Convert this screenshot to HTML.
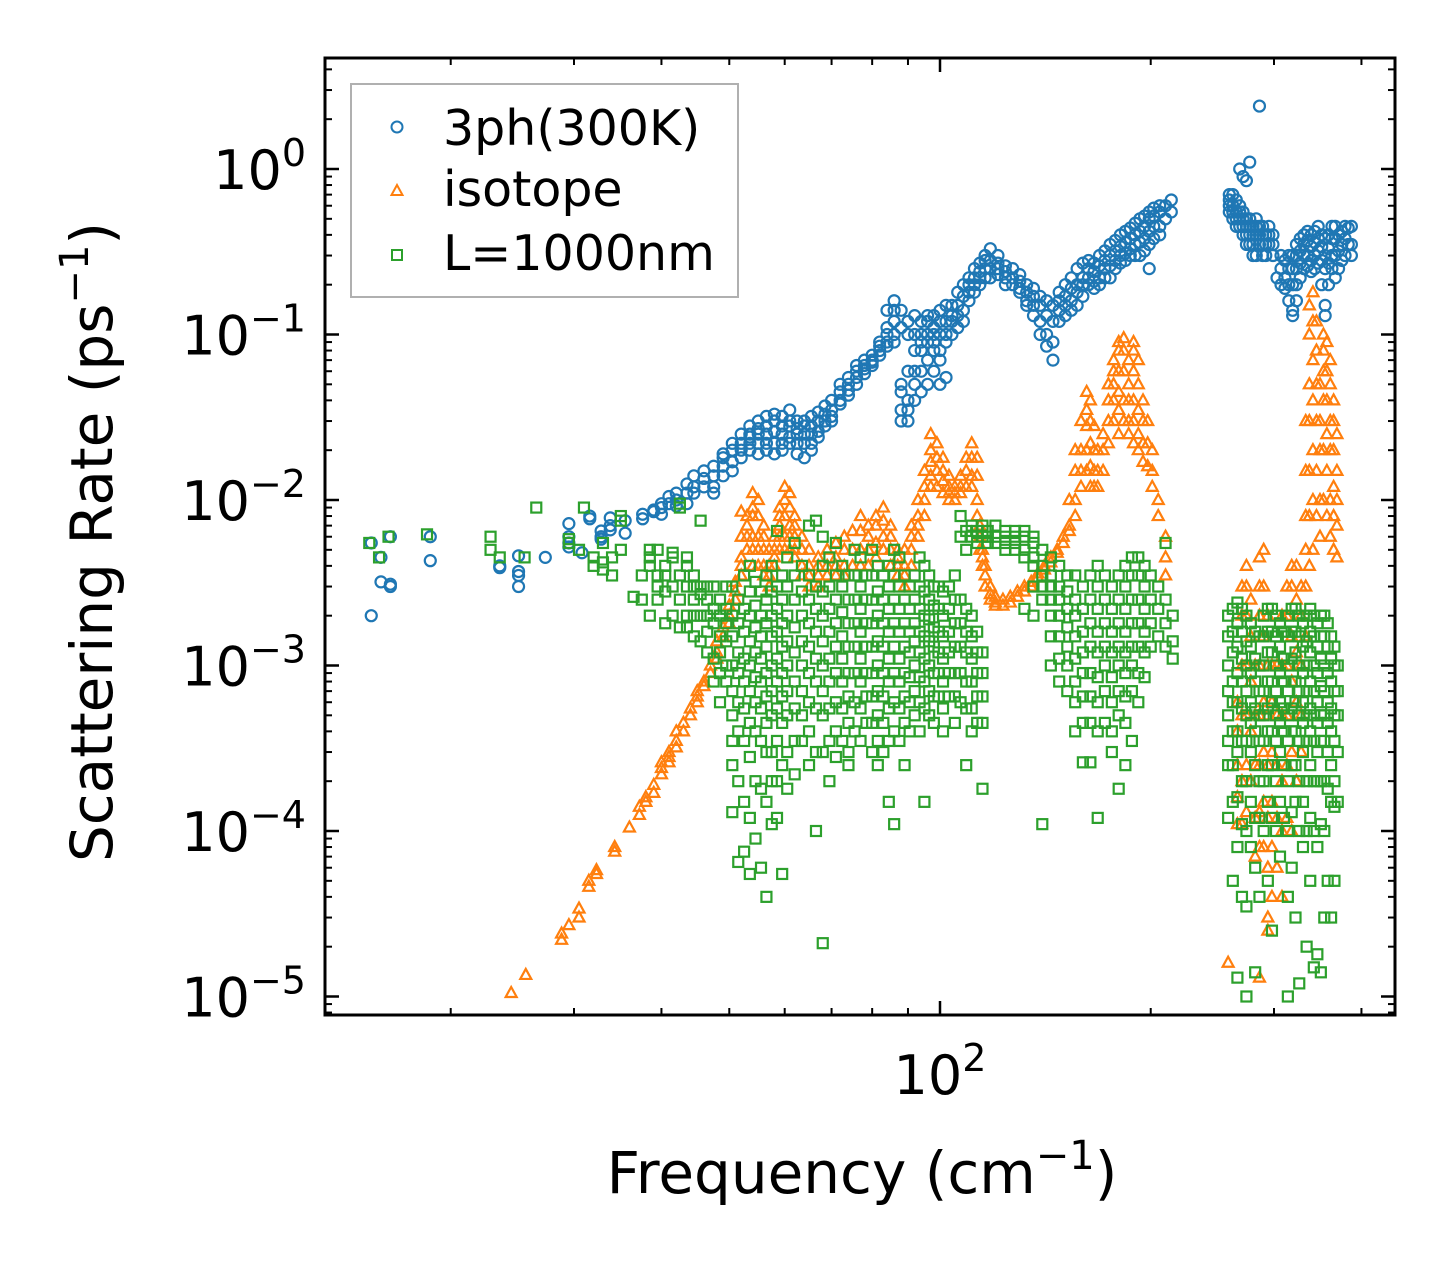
<!DOCTYPE html>
<html><head><meta charset="utf-8"><style>
html,body{margin:0;padding:0;background:#fff;}
svg{display:block;font-family:"DejaVu Sans","Liberation Sans",sans-serif;}
</style></head><body>
<svg id="chart" width="1455" height="1265" viewBox="0 0 1455 1265" xmlns="http://www.w3.org/2000/svg">
<rect width="1455" height="1265" fill="#fff"/>
<g id="marks"></g>
<g id="axes"></g>
<text x="862" y="1193" font-size="58" text-anchor="middle">Frequency (cm<tspan dy="-24" font-size="40">−1</tspan><tspan dy="24">)</tspan></text>
<text transform="translate(112,542) rotate(-90)" font-size="58" text-anchor="middle">Scattering Rate (ps<tspan dy="-24" font-size="40">−1</tspan><tspan dy="24">)</tspan></text>
<g>
<rect x="351" y="84" width="387" height="213" fill="#fff" stroke="#b0b0b0" stroke-width="2"/>
<circle cx="397" cy="127" r="5.5" fill="none" stroke="#1f77b4" stroke-width="2"/>
<text x="443" y="145" font-size="49">3ph(300K)</text>
<path d="M397,185 L402.5,195 L391.5,195 Z" fill="none" stroke="#ff7f0e" stroke-width="2"/>
<text x="443" y="206" font-size="49">isotope</text>
<rect x="392" y="250" width="10" height="10" fill="none" stroke="#2ca02c" stroke-width="2"/>
<text x="443" y="270" font-size="49">L=1000nm</text>
</g>
</svg>
<script>
const blueFreq=[15.4,15.9,16.4,18.7,23.5,25,27.3,29.5,30.8,31.6,32.8,33.8,35.5,37.6,39,40,41,42,43.5,44.5,46,47.5,49,50.5,52,53.5,55,56.5,58,59.5,61,62.5,64,65.5,67,68.5,70,72,74,76,78,80,82,84,86,88,90,92,94,96,98,100,102,104,106,108,110,112,114,116,118,121,124,127,130,133,136,139,142,145,148,151,154,157,160,163,166,169,172,175,178,181,184,187,190,193,196,199,202,206,210,214,259,262,265,268,271,274,277,280,283,286,289,292,295,299,303,307,311,315,319,323,327,331,335,339,343,347,351,355,359,363,367,371,375,379,383,387];
const blueRate=[[0.002,0.0055],[0.0032,0.0045],[0.003,0.0031,0.006],[0.0043,0.006],[0.0039,0.004],[0.003,0.0035,0.0037,0.0046],[0.0045],[0.0072,0.006,0.0052,0.0055],[0.0048],[0.008,0.0077],[0.0058,0.006,0.0065],[0.007,0.0078,0.0066],[0.0075,0.0063],[0.0082,0.0077],[0.0085,0.0087],[0.009,0.0095,0.0082],[0.0095,0.0105],[0.011,0.01,0.0092],[0.0125,0.011,0.0095],[0.014,0.012,0.011],[0.0135,0.015,0.012],[0.016,0.014,0.012,0.011],[0.018,0.016,0.014,0.019],[0.02,0.017,0.022,0.015],[0.022,0.025,0.02,0.018],[0.025,0.028,0.022,0.02,0.024],[0.027,0.03,0.025,0.022,0.019],[0.028,0.032,0.025,0.022,0.02],[0.03,0.026,0.033,0.022,0.019],[0.032,0.025,0.028,0.022,0.02],[0.028,0.03,0.024,0.022,0.035],[0.027,0.022,0.025,0.03,0.019],[0.03,0.025,0.028,0.022,0.018],[0.025,0.028,0.022,0.032,0.02],[0.03,0.026,0.024,0.034],[0.033,0.03,0.028,0.037],[0.035,0.04,0.032,0.03],[0.045,0.04,0.038,0.05],[0.05,0.046,0.055,0.043],[0.06,0.055,0.05,0.065],[0.062,0.065,0.058,0.07],[0.07,0.075,0.065,0.068],[0.08,0.09,0.075,0.085],[0.1,0.09,0.085,0.11,0.14],[0.12,0.1,0.14,0.16,0.09],[0.14,0.11,0.05,0.045,0.03,0.035],[0.04,0.035,0.06,0.1,0.12,0.03],[0.06,0.08,0.1,0.05,0.04,0.13],[0.1,0.08,0.12,0.09,0.06,0.045],[0.12,0.1,0.09,0.13,0.07,0.05],[0.13,0.11,0.09,0.1,0.08,0.06],[0.1,0.14,0.12,0.08,0.07,0.05],[0.12,0.15,0.1,0.09,0.055],[0.13,0.15,0.12,0.1],[0.15,0.13,0.11,0.18],[0.17,0.14,0.2,0.12],[0.18,0.2,0.16,0.22],[0.22,0.2,0.25,0.18],[0.24,0.22,0.27,0.2],[0.25,0.28,0.22,0.3],[0.28,0.25,0.22,0.33],[0.27,0.25,0.23,0.3],[0.24,0.22,0.26,0.2],[0.22,0.2,0.25],[0.21,0.18,0.23,0.19],[0.18,0.16,0.2,0.15],[0.17,0.15,0.13,0.19],[0.15,0.12,0.17,0.1],[0.13,0.1,0.16,0.085],[0.12,0.09,0.15,0.07],[0.16,0.14,0.18,0.12],[0.17,0.15,0.2,0.13],[0.19,0.16,0.22,0.14],[0.2,0.18,0.25,0.15],[0.22,0.2,0.27,0.17],[0.25,0.22,0.28,0.2],[0.24,0.21,0.27,0.19],[0.26,0.22,0.3,0.2],[0.28,0.25,0.32,0.22],[0.3,0.26,0.35,0.22],[0.32,0.28,0.37,0.25],[0.34,0.3,0.4,0.27],[0.36,0.31,0.42,0.28],[0.38,0.33,0.44,0.3],[0.4,0.35,0.47,0.3],[0.42,0.36,0.5,0.3],[0.45,0.38,0.52,0.32],[0.5,0.42,0.55,0.35,0.25],[0.52,0.45,0.58,0.38],[0.55,0.45,0.6,0.4],[0.6,0.5],[0.65,0.55],[0.7,0.6,0.55,0.65],[0.7,0.6,0.5,0.55],[0.65,0.55,0.5,0.45],[0.6,0.5,0.45,0.55,1.0],[0.55,0.5,0.45,0.4,0.9],[0.5,0.45,0.4,0.35,0.85],[0.5,0.45,0.4,0.35,1.1],[0.45,0.4,0.35,0.3],[0.5,0.45,0.4,0.3],[0.45,0.4,0.35,2.4],[0.45,0.4,0.35,0.3],[0.4,0.35,0.3],[0.45,0.4,0.35],[0.4,0.35,0.3],[0.22],[0.3,0.25,0.2],[0.28,0.22,0.19],[0.3,0.25,0.2,0.16],[0.3,0.25,0.2,0.14,0.13],[0.35,0.3,0.25,0.2,0.16],[0.38,0.32,0.27,0.22],[0.4,0.35,0.3,0.25],[0.42,0.37,0.3,0.26],[0.4,0.34,0.28,0.24],[0.42,0.36,0.3,0.25],[0.45,0.38,0.32,0.27],[0.4,0.34,0.28,0.2],[0.38,0.3,0.25,0.15,0.13],[0.4,0.33,0.27,0.2],[0.45,0.38,0.3,0.25],[0.45,0.38,0.3,0.22],[0.4,0.32,0.25],[0.42,0.35,0.28],[0.45,0.38,0.3],[0.44,0.35],[0.45,0.35,0.3]];
const orangeFreq=[24.4,25.6,28.8,29.5,30.5,31.5,32.3,34.3,36,37.2,38,39,40,41,42,43,44,45,46,47,48,49,50,51,52,53,54,55,56,57,58,59,60,61,62,63.5,65,67,69,71,73,75,77,79,81,83,85,87,89,91,93,95,97,99,101,103,105,107,109,111,113,114,115,116,118,120,123,126,129,132,135,138,141,144,147,150,153,156,159,162,164,166,168,171,174,177,180,183,186,189,192,195,198,201,205,210,258,266,270,274,278,282,286,290,294,298,303,308,313,318,323,328,333,337,341,345,349,353,357,361,365,369];
const orangeRate=[[1.05e-5],[1.35e-5],[2.2e-5,2.4e-5],[2.7e-5],[3e-5,3.4e-5],[4.6e-5,5e-5],[5.5e-5,5.8e-5],[7.5e-5,8e-5],[1.05e-4],[1.4e-4,1.25e-4],[1.6e-4,1.5e-4],[1.9e-4,1.7e-4],[2.4e-4,2.2e-4,2.6e-4],[2.8e-4,3e-4,2.6e-4],[3.2e-4,3.5e-4,4e-4],[4e-4,4.5e-4],[5e-4,5.5e-4],[6e-4,6.5e-4,7e-4],[7.5e-4,8e-4],[9e-4,1e-3],[1.2e-3,1.1e-3,1.4e-3],[1.5e-3,1.7e-3],[2e-3,1.8e-3,2.3e-3],[2.5e-3,2.8e-3,3.2e-3],[3.5e-3,4e-3,4.5e-3,6e-3,8.5e-3],[5e-3,6e-3,7e-3,8e-3],[8e-3,9e-3,0.011,6e-3,5e-3,4e-3],[0.01,8e-3,6e-3,5e-3,4e-3],[7e-3,6e-3,5e-3,4e-3,3.5e-3],[5e-3,4e-3,3.5e-3,3e-3],[4e-3,4.5e-3,5e-3,6e-3],[6e-3,7e-3,8e-3,9e-3,5e-3],[0.01,0.012,8e-3,6e-3,5e-3],[0.011,9e-3,7e-3,6e-3,5e-3],[8e-3,7e-3,6e-3,5e-3,4.5e-3],[6e-3,5e-3,4e-3,3.5e-3],[5e-3,4e-3,3.5e-3,3e-3],[4.5e-3,4e-3,3.5e-3,3e-3],[5e-3,4e-3,3.5e-3],[5.5e-3,4.5e-3,4e-3,3.5e-3],[6e-3,5e-3,4e-3,3.5e-3],[6.5e-3,5e-3,4e-3],[8e-3,6.5e-3,5e-3,4e-3],[7e-3,6e-3,5e-3,4e-3],[8e-3,7e-3,5.5e-3,4.5e-3],[0.009,7.5e-3,6e-3,5e-3],[7e-3,6e-3,5e-3,4e-3],[5e-3,4.5e-3,4e-3,3.5e-3],[5e-3,4e-3,3.5e-3,3e-3],[7e-3,6e-3,5e-3,4e-3],[0.01,8e-3,7e-3,6e-3],[0.015,0.012,0.01,8e-3],[0.02,0.017,0.014,0.012,0.025],[0.022,0.018,0.015,0.012],[0.018,0.015,0.013,0.011],[0.014,0.012,0.011,0.01],[0.012,0.011,0.01],[0.014,0.012,0.011],[0.018,0.015,0.012],[0.022,0.018,0.014,0.012],[0.018,0.014,0.01,8e-3],[7e-3,6e-3,5e-3],[5e-3,4.5e-3,4e-3],[4e-3,3.5e-3,3e-3],[3e-3,2.7e-3,2.5e-3],[2.6e-3,2.4e-3,2.3e-3],[2.5e-3,2.3e-3],[2.6e-3,2.4e-3],[2.8e-3,2.6e-3],[3e-3,2.8e-3],[3.2e-3,3e-3],[3.6e-3,3.4e-3],[4e-3,3.8e-3],[4.5e-3,4.2e-3],[5e-3,4.8e-3],[5.5e-3,6e-3],[6.5e-3,7e-3,0.01],[0.01,0.015,0.02,8e-3],[0.02,0.03,0.015,0.012],[0.035,0.045,0.028,0.02,0.015],[0.04,0.03,0.022,0.016,0.012],[0.028,0.02,0.015,0.012],[0.02,0.015,0.012],[0.015,0.02,0.025],[0.03,0.04,0.05,0.022],[0.05,0.06,0.07,0.04,0.03],[0.08,0.09,0.06,0.045,0.035,0.025],[0.095,0.08,0.06,0.04,0.03],[0.07,0.05,0.04,0.03,0.025],[0.08,0.09,0.06,0.04,0.03,0.022],[0.07,0.05,0.035,0.025,0.02],[0.04,0.03,0.022,0.017],[0.03,0.022,0.016],[0.02,0.015,0.012],[0.01,0.008],[0.006,0.0045,0.0035],[1.6e-5],[6e-4,4e-4,2.5e-4,1.6e-4,1.1e-4],[2e-3,3e-3,1e-3,5e-4,2e-4,1.1e-4],[4e-3,3e-3,2e-3,1e-3,5e-4,2.5e-4,1.3e-4],[2.5e-3,1.5e-3,8e-4,4e-4,2e-4],[1e-3,5e-4,2.5e-4,1.2e-4,7e-5],[3e-3,4.5e-3,2e-3,1e-3,5e-4,2.5e-4,1.3e-4,8e-5,1.3e-5],[5e-3,3e-3,1.5e-3,6e-4,3e-4,1.5e-4,8e-5],[2e-3,1e-3,5e-4,2.5e-4,1.2e-4,6e-5,3e-5,2.5e-5],[1e-3,6e-4,3e-4,1.5e-4,8e-5,4e-5],[1e-3,5e-4,2.5e-4,1.2e-4,6e-5],[2e-3,1e-3,5e-4,2e-4,1e-4,4e-5],[3e-3,2e-3,1e-3,5e-4,2.5e-4,1.2e-4],[4e-3,3e-3,1.5e-3,8e-4,3e-4,1e-4],[4e-3,2.5e-3,1.2e-3,6e-4,2e-4],[3e-3,2e-3,1e-3,5e-4,3e-4],[5e-3,8e-3,0.015,0.03,3e-3,1.5e-3],[0.05,0.1,0.15,0.03,0.015,8e-3,4e-3],[0.18,0.12,0.07,0.04,0.02,0.01,5e-3],[0.12,0.08,0.05,0.03,0.015,8e-3],[0.02,0.03,0.05,0.01,6e-3],[0.06,0.08,0.1,0.04,0.02,0.01],[0.09,0.06,0.04,0.025,0.015,8e-3],[0.07,0.05,0.03,0.02,0.01,6e-3],[0.04,0.03,0.02,0.012,8e-3,5e-3],[0.025,0.015,0.01,7e-3,4.5e-3]];
const greenFreq=[15.3,15.8,16.3,18.5,22.8,23.5,25.5,26.5,29.5,30.5,31,32,33,34,35,36.5,37.5,38.5,39.5,40.5,41.5,42.5,43.5,44.5,45.5,46.5,47.5,48.5,49.5,50.5,51.5,52.5,53.5,54.5,55.5,56.5,57.5,58.5,59.5,60.5,62,63.5,65,66.5,68,69.5,71,72.5,74,75.5,77,78.5,80,81.5,83,84.5,86,87.5,89,90.5,92,93.5,95,96.5,98,99.5,101,103,105,107,109,111,113,115,117,120,124,128,132,136,140,144,148,152,156,160,164,168,172,176,180,184,188,192,196,200,205,210,215,258,262,266,270,274,278,282,286,290,294,298,302,306,310,314,318,322,326,330,334,338,342,346,350,354,358,362,366,370];
const greenRate=[[5.5e-3],[4.5e-3],[6e-3],[6.2e-3],[6e-3,5e-3],[4.5e-3],[4.5e-3],[9e-3],[5.5e-3,5.8e-3],[5e-3],[9e-3],[4.5e-3,4e-3],[3.8e-3,5.5e-3,4.2e-3],[3.5e-3,4.5e-3],[5e-3,7.5e-3,8e-3],[2.6e-3],[3.5e-3,2.5e-3],[4.5e-3,5e-3,2e-3,4e-3],[3e-3,2.5e-3,5e-3,3.5e-3],[4e-3,2.8e-3,1.8e-3,3.5e-3],[4.5e-3,3e-3,2e-3,4.8e-3],[0.0095,0.009,3.5e-3,2.5e-3,1.7e-3],[3e-3,4e-3,2e-3,4.5e-3,1.7e-3],[2.5e-3,3e-3,2e-3,1.5e-3,3.5e-3],[2.7e-3,2e-3,7.5e-3,1.4e-3,3e-3],[3e-3,2e-3,2.5e-3,1.2e-3,1.6e-3],[2.2e-3,1.8e-3,1.1e-3,8e-4,3e-3],[2e-3,1.5e-3,1.2e-3,9e-4,6e-4,2.5e-3],[1.8e-3,1.4e-3,1e-3,8e-4,3e-3,2.2e-3],[3e-3,2e-3,1.5e-3,1e-3,7e-4,5e-4,3.5e-4,2.5e-4,1.3e-4],[2.5e-3,1.8e-3,1.2e-3,9e-4,6e-4,4e-4,2e-4,6.5e-5],[3.5e-3,2.2e-3,1.6e-3,1.1e-3,8e-4,5.5e-4,3.5e-4,1.5e-4,7.5e-5],[4e-3,2.8e-3,2e-3,1.4e-3,1e-3,7e-4,4.5e-4,2.8e-4,1.2e-4,5.5e-5],[3.2e-3,2.3e-3,1.7e-3,1.2e-3,8.5e-4,6e-4,4e-4,2e-4,9e-5],[2.8e-3,2e-3,1.5e-3,1.1e-3,8e-4,5.5e-4,3.5e-4,1.8e-4,6e-5],[3.5e-3,2.5e-3,1.8e-3,1.3e-3,9e-4,6.5e-4,4.5e-4,3e-4,1.5e-4,4e-5],[4e-3,2.8e-3,2e-3,1.5e-3,1e-3,7e-4,5e-4,3e-4,2e-4,1.1e-4],[6.5e-3,3e-3,2.2e-3,1.6e-3,1.1e-3,8e-4,5.5e-4,3.5e-4,2e-4,1.2e-4],[3.5e-3,2.5e-3,1.8e-3,1.3e-3,9e-4,6.5e-4,4.5e-4,2.5e-4,5.5e-5],[4.5e-3,3e-3,2e-3,1.4e-3,1e-3,7e-4,5e-4,3e-4,1.8e-4],[5.5e-3,3.5e-3,2.5e-3,1.7e-3,1.2e-3,8e-4,5.5e-4,3.5e-4,2.2e-4],[4e-3,2.8e-3,2e-3,1.4e-3,1e-3,7e-4,5e-4,3.5e-4],[7e-3,3.5e-3,2.5e-3,1.8e-3,1.3e-3,9e-4,6e-4,4e-4,2.5e-4],[7.5e-3,3e-3,2.2e-3,1.6e-3,1.1e-3,8e-4,5.5e-4,3e-4,1e-4],[6e-3,4e-3,2.8e-3,2e-3,1.4e-3,1e-3,7e-4,5e-4,3e-4,2.1e-5],[4.5e-3,3e-3,2.2e-3,1.6e-3,1.1e-3,8e-4,5.5e-4,3.5e-4,2e-4],[5.5e-3,3.5e-3,2.5e-3,1.8e-3,1.3e-3,9e-4,6e-4,4e-4,2.8e-4],[4e-3,3e-3,2.1e-3,1.5e-3,1.1e-3,8e-4,5.5e-4,3.5e-4],[3.5e-3,2.5e-3,1.8e-3,1.3e-3,9e-4,6.5e-4,4.5e-4,3e-4,2.5e-4],[5e-3,3.5e-3,2.5e-3,1.8e-3,1.3e-3,9e-4,6e-4,4e-4],[4.5e-3,3e-3,2.2e-3,1.6e-3,1.1e-3,8e-4,5.5e-4,3.5e-4],[3.5e-3,2.5e-3,1.8e-3,1.3e-3,9e-4,6.5e-4,4.5e-4],[5e-3,3.5e-3,2.5e-3,1.8e-3,1.3e-3,9e-4,6.5e-4,4.5e-4,3e-4],[4e-3,2.8e-3,2e-3,1.4e-3,1e-3,7e-4,5e-4,3.5e-4,2.5e-4],[3.5e-3,2.5e-3,1.8e-3,1.3e-3,9e-4,6.5e-4,4.5e-4,3e-4],[4e-3,3e-3,2.2e-3,1.6e-3,1.1e-3,8e-4,5.5e-4,3.5e-4,1.5e-4],[5e-3,3.5e-3,2.5e-3,1.8e-3,1.3e-3,9e-4,6e-4,4e-4,1.1e-4],[4.5e-3,3e-3,2.2e-3,1.6e-3,1.1e-3,8e-4,5.5e-4,3.5e-4],[3.5e-3,2.5e-3,1.8e-3,1.3e-3,9e-4,6.5e-4,4.5e-4,2.5e-4],[3e-3,2.2e-3,1.6e-3,1.2e-3,8.5e-4,6e-4,4e-4],[3.5e-3,2.5e-3,1.8e-3,1.4e-3,1e-3,7e-4,5e-4],[4.5e-3,3e-3,2.2e-3,1.6e-3,1.2e-3,8.5e-4,6e-4,4e-4],[4e-3,2.8e-3,2e-3,1.5e-3,1.1e-3,8e-4,5.5e-4,1.5e-4],[3.5e-3,2.5e-3,1.9e-3,1.4e-3,1e-3,7e-4,5e-4],[3e-3,2.3e-3,1.7e-3,1.3e-3,9e-4,6.5e-4,4.5e-4],[3e-3,2.2e-3,1.6e-3,1.2e-3,9e-4,6.5e-4],[2.8e-3,2e-3,1.5e-3,1.1e-3,8e-4,5.5e-4,4e-4],[3e-3,2.2e-3,1.6e-3,1.2e-3,9e-4,6.5e-4],[3.5e-3,2.5e-3,1.8e-3,1.3e-3,9e-4,6.5e-4,4.5e-4],[8e-3,6e-3,2.5e-3,1.8e-3,1.3e-3,9e-4,6e-4],[6.5e-3,5e-3,2.2e-3,1.6e-3,1.2e-3,8e-4,5.5e-4,2.5e-4],[6e-3,7e-3,2e-3,1.5e-3,1.1e-3,8e-4,5.5e-4,4e-4],[6.5e-3,5.5e-3,1.6e-3,1.2e-3,9e-4,6.5e-4,4.5e-4],[7e-3,6e-3,1.2e-3,9e-4,6.5e-4,4.5e-4,1.8e-4],[6.5e-3,5.5e-3,6e-3],[7e-3,6e-3,5.5e-3],[6.5e-3,6e-3,5.5e-3,5e-3],[6e-3,5.5e-3,5e-3,6.5e-3],[6e-3,5e-3,4.5e-3,6.5e-3,2.2e-3],[5.5e-3,4.5e-3,4e-3,6e-3,3e-3,2e-3],[5e-3,4e-3,3.5e-3,3e-3,2.5e-3,1.1e-4],[4.5e-3,3.5e-3,3e-3,2.5e-3,2e-3,1.5e-3,1e-3],[4e-3,3e-3,2.5e-3,2e-3,1.5e-3,1.1e-3,8e-4],[3.5e-3,2.8e-3,2.2e-3,1.7e-3,1.3e-3,1e-3,7e-4],[3.5e-3,2.5e-3,2e-3,1.5e-3,1.1e-3,8e-4,6e-4,4e-4],[3e-3,2.2e-3,1.6e-3,1.2e-3,9e-4,6.5e-4,4.5e-4,2.6e-4],[3.5e-3,2.5e-3,1.8e-3,1.3e-3,9e-4,6.5e-4,4.5e-4,2.6e-4],[4e-3,3e-3,2.2e-3,1.6e-3,1.2e-3,8.5e-4,6e-4,4e-4,1.2e-4],[3.5e-3,2.5e-3,1.8e-3,1.3e-3,1e-3,7e-4,4.5e-4],[3e-3,2.2e-3,1.6e-3,1.2e-3,8.5e-4,6e-4,4e-4,3e-4],[3.5e-3,2.5e-3,1.8e-3,1.3e-3,1e-3,7e-4,5e-4,1.8e-4],[4e-3,3e-3,2.2e-3,1.6e-3,1.2e-3,9e-4,6.5e-4,4.5e-4,2.5e-4],[4.5e-3,3.5e-3,2.5e-3,1.8e-3,1.3e-3,1e-3,7e-4,3.5e-4],[4.5e-3,3.5e-3,2.5e-3,1.8e-3,1.3e-3,9e-4,6e-4],[4e-3,3e-3,2.2e-3,1.6e-3,1.2e-3,8.5e-4],[3.5e-3,2.5e-3,1.8e-3,1.3e-3],[3e-3,2.2e-3,1.5e-3],[5.5e-3,2.5e-3,1.8e-3,1.3e-3],[2e-3,1.4e-3,1.1e-3],[2e-3,1.5e-3,1e-3,7e-4,5e-4,3.5e-4,2.5e-4,1.2e-4],[2.2e-3,1.6e-3,1.2e-3,8e-4,6e-4,4e-4,2.5e-4,1.5e-4,5e-5],[2.4e-3,1.8e-3,1.3e-3,9e-4,6e-4,4e-4,3e-4,1.6e-4,8e-5,1.3e-5],[2.2e-3,1.6e-3,1.1e-3,8e-4,5.5e-4,3.5e-4,2e-4,1.1e-4,4e-5],[2e-3,1.4e-3,1e-3,7e-4,5e-4,3.5e-4,2e-4,1e-4,3.5e-5,1e-5],[1.8e-3,1.3e-3,9e-4,6e-4,4.5e-4,3e-4,1.5e-4,8e-5],[1.6e-3,1.1e-3,8e-4,5.5e-4,4e-4,2.5e-4,1.2e-4,6e-5,1.4e-5],[1.5e-3,1e-3,7e-4,5e-4,3.5e-4,2e-4,1.2e-4,4e-5],[2e-3,1.5e-3,1e-3,7e-4,5e-4,3.5e-4,2e-4,1e-4],[2.2e-3,1.6e-3,1.2e-3,8e-4,5.5e-4,4e-4,2.5e-4,1.5e-4,5e-5],[2.2e-3,1.6e-3,1.2e-3,8e-4,6e-4,4e-4,2.5e-4,1.2e-4,2.5e-5],[2e-3,1.5e-3,1e-3,7e-4,5e-4,3.5e-4,2e-4,1e-4],[1.8e-3,1.3e-3,9e-4,6e-4,4.5e-4,3e-4,1.5e-4,7e-5],[1.6e-3,1.1e-3,8e-4,5.5e-4,4e-4,2.5e-4,1.2e-4],[2e-3,1.5e-3,1e-3,7e-4,5e-4,3.5e-4,2e-4,1e-4,4e-5,1e-5],[2.2e-3,1.6e-3,1.1e-3,8e-4,5.5e-4,4e-4,2.5e-4,1.3e-4,6e-5],[2.2e-3,1.6e-3,1.2e-3,8e-4,6e-4,4e-4,2.5e-4,1.5e-4,3e-5],[2e-3,1.5e-3,1e-3,7e-4,5e-4,3.5e-4,2e-4,1e-4,1.2e-5],[1.8e-3,1.3e-3,9e-4,6e-4,4.5e-4,3e-4,1.5e-4,8e-5],[2e-3,1.4e-3,1e-3,7e-4,5e-4,3.5e-4,2e-4,1e-4,2e-5],[2.2e-3,1.6e-3,1.2e-3,8e-4,5.5e-4,4e-4,2.5e-4,1.2e-4,5e-5],[2e-3,1.5e-3,1e-3,7e-4,5e-4,3.5e-4,2e-4,1e-4,1.5e-5],[1.8e-3,1.3e-3,9e-4,6e-4,4.5e-4,3e-4,2e-4,8e-5,1.8e-5],[2e-3,1.5e-3,1.1e-3,7.5e-4,5e-4,3.5e-4,2e-4,1.1e-4,1.4e-5],[2e-3,1.5e-3,1e-3,7e-4,5e-4,3.5e-4,2e-4,1e-4,3e-5],[1.8e-3,1.3e-3,9e-4,6e-4,4.5e-4,3e-4,1.8e-4,5e-5],[1.5e-3,1.1e-3,8e-4,5.5e-4,4e-4,2.5e-4,1.5e-4,3e-5],[1.3e-3,1e-3,7e-4,5e-4,3.5e-4,2e-4,1.4e-4,5e-5],[1e-3,7e-4,5e-4,3e-4,1.5e-4]];
const yTickExps=[0,-1,-2,-3,-4,-5];
const xMinorTicks=[20,30,40,50,60,70,80,90,200,300,400];
const xMajorTicks=[100];

const NS='http://www.w3.org/2000/svg';
const L=325,R=1395,T=58,B=1015;
function xs(f){return 940+700*Math.log10(f/100);}
function ys(v){return 169-165.5*Math.log10(v);}
function mk(tag,attrs,parent){const e=document.createElementNS(NS,tag);for(const k in attrs)e.setAttribute(k,attrs[k]);parent.appendChild(e);return e;}
const marks=document.getElementById('marks');
const axes=document.getElementById('axes');

const gB=mk('g',{},marks);


blueFreq.forEach((f,i)=>blueRate[i].forEach(v=>{
  const c=mk('circle',{cx:xs(f),cy:ys(v),r:5.5,fill:'none',stroke:'#1f77b4','stroke-width':2.2},gB);
  
  
}));
const gO=mk('g',{},marks);


orangeFreq.forEach((f,i)=>orangeRate[i].forEach(v=>{
  const x=xs(f),y=ys(v);
  const p=mk('path',{d:`M${x},${y-6} L${x+5.5},${y+4} L${x-5.5},${y+4} Z`,fill:'none',stroke:'#ff7f0e','stroke-width':2.2},gO);
  
  
}));
const gG=mk('g',{},marks);


greenFreq.forEach((f,i)=>greenRate[i].forEach(v=>{
  const r=mk('rect',{x:xs(f)-5,y:ys(v)-5,width:10,height:10,fill:'none',stroke:'#2ca02c','stroke-width':2.2},gG);
  
  
}));

const fr=mk('rect',{x:L,y:T,width:R-L,height:B-T,fill:'none',stroke:'#000','stroke-width':3},axes);


yTickExps.forEach(e=>{
  const y=ys(Math.pow(10,e));
  mk('line',{x1:L,x2:L+14,y1:y,y2:y,stroke:'#000','stroke-width':2.5},axes);
  mk('line',{x1:R,x2:R-14,y1:y,y2:y,stroke:'#000','stroke-width':2.5},axes);
  const t=mk('text',{x:306,y:y+20,'font-size':54,'text-anchor':'end'},axes);
  
  
  t.innerHTML='10<tspan dy="-23" font-size="38">'+(e<0?'−'+(-e):e)+'</tspan>';
});
for(let e=-6;e<=1;e++){for(let m=2;m<=9;m++){const v=m*Math.pow(10,e);const y=ys(v);if(y<T||y>B)continue;
  mk('line',{x1:L,x2:L+7,y1:y,y2:y,stroke:'#000','stroke-width':2},axes);
  mk('line',{x1:R,x2:R-7,y1:y,y2:y,stroke:'#000','stroke-width':2},axes);}}
xMinorTicks.forEach(f=>{const x=xs(f);
  mk('line',{x1:x,x2:x,y1:B,y2:B-7,stroke:'#000','stroke-width':2},axes);
  mk('line',{x1:x,x2:x,y1:T,y2:T+7,stroke:'#000','stroke-width':2},axes);});
xMajorTicks.forEach(f=>{const x=xs(f);
  mk('line',{x1:x,x2:x,y1:B,y2:B-14,stroke:'#000','stroke-width':2.5},axes);
  mk('line',{x1:x,x2:x,y1:T,y2:T+14,stroke:'#000','stroke-width':2.5},axes);
  const t=mk('text',{x:x,y:1094,'font-size':54,'text-anchor':'middle'},axes);
  
  
  t.innerHTML='10<tspan dy="-23" font-size="38">'+Math.round(Math.log10(f))+'</tspan>';});
</script>
</body></html>
